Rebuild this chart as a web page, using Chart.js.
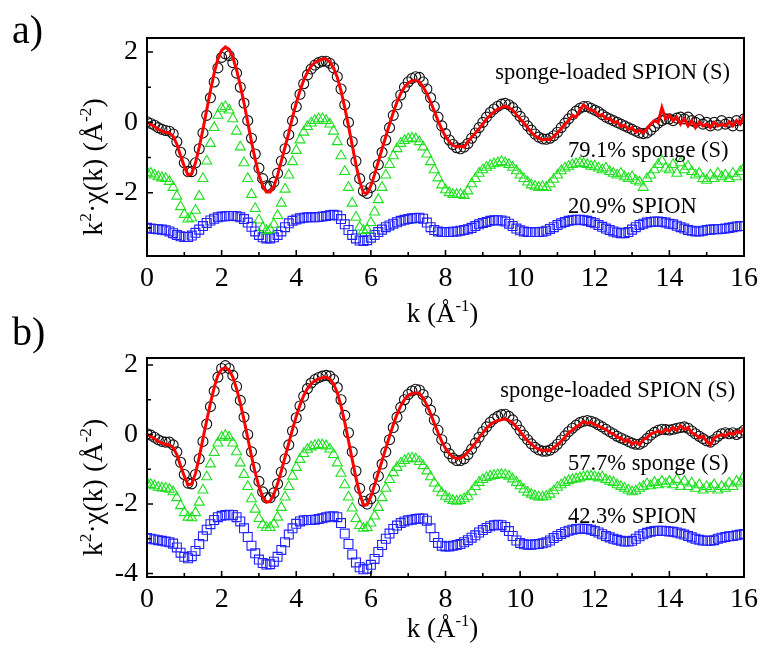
<!DOCTYPE html>
<html><head><meta charset="utf-8">
<script src="https://cdn.jsdelivr.net/npm/chart.js@4.4.1/dist/chart.umd.min.js"></script>
<style>
html,body{margin:0;padding:0;background:#fff;}
body{width:764px;height:650px;position:relative;overflow:hidden;}
.box{position:absolute;left:0;width:764px;}
#wa{top:0;height:335px;}
#wb{top:300px;height:350px;}
</style></head><body>
<div class="box" id="wa"><canvas id="ca"></canvas></div>
<div class="box" id="wb"><canvas id="cb"></canvas></div>
<script>
// ---------- DATA ----------
const kGrid = [
0,0.1,0.2,0.3,0.4,0.5,0.6,0.7,0.8,0.9,
1,1.1,1.2,1.3,1.4,1.5,1.6,1.7,1.8,1.9,
2,2.1,2.2,2.3,2.4,2.5,2.6,2.7,2.8,2.9,
3,3.1,3.2,3.3,3.4,3.5,3.6,3.7,3.8,3.9,
4,4.1,4.2,4.3,4.4,4.5,4.6,4.7,4.8,4.9,
5,5.1,5.2,5.3,5.4,5.5,5.6,5.7,5.8,5.9,
6,6.1,6.2,6.3,6.4,6.5,6.6,6.7,6.8,6.9,
7,7.1,7.2,7.3,7.4,7.5,7.6,7.7,7.8,7.9,
8,8.1,8.2,8.3,8.4,8.5,8.6,8.7,8.8,8.9,
9,9.1,9.2,9.3,9.4,9.5,9.6,9.7,9.8,9.9,
10,10.1,10.2,10.3,10.4,10.5,10.6,10.7,10.8,10.9,
11,11.1,11.2,11.3,11.4,11.5,11.6,11.7,11.8,11.9,
12,12.1,12.2,12.3,12.4,12.5,12.6,12.7,12.8,12.9,
13,13.1,13.2,13.3,13.4,13.5,13.6,13.7,13.8,13.9,
14,14.1,14.2,14.3,14.4,14.5,14.6,14.7,14.8,14.9,
15,15.1,15.2,15.3,15.4,15.5,15.6,15.7,15.8,15.9,
16];

// panel a) sponge-loaded SPION (S): measured
const aSample = [
0.02,-0.03,-0.08,-0.15,-0.2,-0.23,-0.25,-0.33,-0.55,-0.85,
-1.15,-1.4,-1.4,-1.15,-0.75,-0.3,0.2,0.7,1.15,1.55,
1.85,1.95,1.9,1.7,1.4,1.0,0.55,0.05,-0.45,-0.9,
-1.3,-1.6,-1.8,-1.82,-1.7,-1.45,-1.1,-0.75,-0.35,0.05,
0.45,0.8,1.1,1.35,1.52,1.63,1.7,1.74,1.74,1.68,
1.55,1.3,0.95,0.5,0.0,-0.55,-1.1,-1.6,-1.95,-2.02,
-1.85,-1.55,-1.2,-0.85,-0.5,-0.15,0.2,0.5,0.78,1.0,
1.15,1.25,1.3,1.28,1.15,0.95,0.7,0.45,0.15,-0.1,
-0.32,-0.5,-0.63,-0.72,-0.75,-0.7,-0.6,-0.45,-0.3,-0.15,
0.0,0.15,0.28,0.38,0.46,0.52,0.54,0.5,0.42,0.3,
0.17,0.04,-0.1,-0.22,-0.33,-0.42,-0.47,-0.48,-0.45,-0.38,
-0.28,-0.15,-0.02,0.1,0.22,0.32,0.4,0.45,0.45,0.4,
0.35,0.3,0.22,0.15,0.1,0.05,0.0,-0.05,-0.1,-0.15,
-0.2,-0.25,-0.3,-0.32,-0.3,-0.22,-0.12,-0.02,0.05,0.1,
0.1,0.05,0.12,0.15,0.1,0.15,0.05,0.0,0.08,-0.05,
0.0,-0.1,0.0,-0.08,0.05,-0.05,0.0,-0.1,0.05,-0.1,
0.1];
// panel a) fit
const aFit = [
0.0,-0.05,-0.12,-0.2,-0.25,-0.28,-0.3,-0.4,-0.62,-0.95,
-1.25,-1.5,-1.45,-1.15,-0.7,-0.2,0.35,0.9,1.4,1.8,
2.05,2.15,2.08,1.85,1.5,1.05,0.55,0.0,-0.55,-1.05,
-1.5,-1.8,-1.98,-1.98,-1.82,-1.5,-1.1,-0.7,-0.3,0.15,
0.55,0.9,1.2,1.43,1.6,1.7,1.76,1.8,1.8,1.72,
1.55,1.28,0.9,0.42,-0.1,-0.65,-1.2,-1.68,-2.0,-2.02,
-1.8,-1.48,-1.12,-0.75,-0.4,-0.05,0.28,0.58,0.82,1.0,
1.12,1.18,1.2,1.15,1.02,0.82,0.58,0.32,0.05,-0.2,
-0.4,-0.55,-0.65,-0.7,-0.68,-0.7,-0.55,-0.42,-0.3,-0.18,
-0.05,0.1,0.2,0.3,0.38,0.42,0.47,0.42,0.35,0.22,
0.1,-0.02,-0.15,-0.28,-0.38,-0.45,-0.5,-0.48,-0.5,-0.4,
-0.3,-0.18,-0.05,0.05,0.2,0.15,0.35,0.5,0.4,0.35,
0.32,0.2,0.22,0.1,0.12,0.0,0.02,-0.12,-0.08,-0.2,
-0.15,-0.28,-0.22,-0.3,-0.18,-0.05,0.05,0.0,0.42,0.1,
0.2,0.05,0.15,-0.05,0.1,-0.1,0.05,-0.15,0.0,-0.1,
-0.05,-0.15,0.0,-0.1,-0.05,-0.1,0.02,-0.1,0.05,-0.05,
0.2];
// panel a) 79.1% sponge (S)
const aSponge = [
-1.42,-1.45,-1.5,-1.55,-1.58,-1.6,-1.68,-1.85,-2.1,-2.4,
-2.62,-2.75,-2.72,-2.5,-2.1,-1.6,-1.1,-0.6,-0.15,0.2,
0.4,0.45,0.35,0.1,-0.25,-0.7,-1.15,-1.6,-2.05,-2.45,
-2.78,-3.0,-3.08,-3.05,-2.9,-2.65,-2.3,-1.9,-1.5,-1.12,
-0.8,-0.5,-0.28,-0.12,-0.02,0.05,0.1,0.1,0.05,-0.05,
-0.25,-0.55,-0.95,-1.4,-1.85,-2.3,-2.7,-2.98,-3.08,-3.05,
-2.85,-2.55,-2.2,-1.85,-1.5,-1.2,-0.95,-0.75,-0.6,-0.52,
-0.47,-0.45,-0.47,-0.55,-0.7,-0.9,-1.12,-1.35,-1.58,-1.78,
-1.92,-2.0,-2.05,-2.05,-2.05,-2.08,-1.95,-1.75,-1.6,-1.45,
-1.35,-1.28,-1.22,-1.18,-1.15,-1.12,-1.15,-1.2,-1.28,-1.38,
-1.5,-1.6,-1.7,-1.78,-1.82,-1.85,-1.83,-1.85,-1.75,-1.62,
-1.5,-1.38,-1.3,-1.25,-1.2,-1.18,-1.15,-1.17,-1.2,-1.25,
-1.25,-1.3,-1.35,-1.3,-1.4,-1.45,-1.5,-1.45,-1.55,-1.6,
-1.55,-1.65,-1.7,-1.85,-1.6,-1.5,-1.35,-1.2,-1.1,-1.3,
-1.35,-1.2,-1.45,-1.15,-1.35,-1.25,-1.4,-1.5,-1.45,-1.6,
-1.65,-1.5,-1.6,-1.45,-1.55,-1.5,-1.6,-1.45,-1.55,-1.4,
-1.3];
// panel a) 20.9% SPION
const aSpion = [
-3.0,-3.02,-3.03,-3.04,-3.05,-3.07,-3.1,-3.15,-3.2,-3.24,
-3.26,-3.26,-3.22,-3.14,-3.05,-2.95,-2.86,-2.79,-2.74,-2.7,
-2.68,-2.67,-2.66,-2.66,-2.67,-2.7,-2.75,-2.85,-2.97,-3.1,
-3.2,-3.27,-3.3,-3.3,-3.27,-3.2,-3.1,-2.98,-2.87,-2.8,
-2.76,-2.73,-2.71,-2.7,-2.7,-2.7,-2.69,-2.68,-2.66,-2.64,
-2.63,-2.65,-2.75,-2.9,-3.06,-3.2,-3.3,-3.36,-3.37,-3.35,
-3.28,-3.2,-3.12,-3.05,-2.98,-2.93,-2.88,-2.84,-2.8,-2.77,
-2.75,-2.73,-2.72,-2.71,-2.74,-2.85,-2.98,-3.06,-3.1,-3.12,
-3.12,-3.12,-3.11,-3.1,-3.08,-3.06,-3.04,-3.0,-2.95,-2.9,
-2.86,-2.83,-2.8,-2.78,-2.78,-2.79,-2.82,-2.88,-2.95,-3.02,
-3.07,-3.1,-3.12,-3.12,-3.12,-3.12,-3.11,-3.08,-3.03,-2.98,
-2.92,-2.87,-2.83,-2.8,-2.78,-2.77,-2.77,-2.78,-2.8,-2.83,
-2.87,-2.92,-2.97,-3.02,-3.06,-3.1,-3.13,-3.15,-3.15,-3.12,
-3.05,-2.98,-2.92,-2.88,-2.85,-2.83,-2.82,-2.82,-2.83,-2.85,
-2.88,-2.9,-2.94,-2.98,-3.02,-3.06,-3.08,-3.1,-3.1,-3.08,
-3.06,-3.05,-3.04,-3.04,-3.03,-3.02,-3.0,-2.98,-2.96,-2.95,
-2.95];

// panel b) sponge-loaded SPION (S): measured
const bSample = [
0.02,-0.02,-0.08,-0.15,-0.2,-0.22,-0.22,-0.3,-0.5,-0.8,
-1.15,-1.4,-1.42,-1.15,-0.7,-0.2,0.3,0.8,1.25,1.65,
1.9,1.98,1.9,1.7,1.38,0.98,0.5,0.0,-0.5,-0.95,
-1.35,-1.65,-1.82,-1.82,-1.68,-1.42,-1.08,-0.7,-0.3,0.1,
0.48,0.82,1.1,1.32,1.48,1.58,1.64,1.68,1.7,1.68,
1.58,1.35,1.0,0.55,0.05,-0.5,-1.05,-1.55,-1.92,-2.0,
-1.85,-1.55,-1.2,-0.85,-0.5,-0.15,0.2,0.5,0.78,1.0,
1.15,1.25,1.3,1.28,1.15,0.95,0.7,0.42,0.12,-0.15,
-0.38,-0.55,-0.68,-0.75,-0.75,-0.7,-0.58,-0.42,-0.25,-0.08,
0.08,0.22,0.35,0.45,0.52,0.57,0.58,0.52,0.42,0.28,
0.12,-0.02,-0.15,-0.27,-0.37,-0.44,-0.48,-0.48,-0.45,-0.38,
-0.28,-0.16,-0.04,0.08,0.18,0.27,0.34,0.38,0.4,0.38,
0.34,0.28,0.22,0.15,0.08,0.02,-0.05,-0.1,-0.15,-0.2,
-0.25,-0.28,-0.28,-0.22,-0.12,-0.02,0.06,0.12,0.15,0.14,
0.13,0.15,0.18,0.2,0.22,0.18,0.1,0.02,-0.05,-0.12,
-0.18,-0.22,-0.15,-0.05,0.02,0.05,0.02,0.05,0.0,0.05,
0.12];
// panel b) fit
const bFit = [
0.0,-0.05,-0.12,-0.2,-0.25,-0.28,-0.3,-0.38,-0.58,-0.9,
-1.2,-1.45,-1.42,-1.12,-0.65,-0.12,0.4,0.9,1.35,1.7,
1.88,1.92,1.85,1.65,1.32,0.9,0.42,-0.1,-0.62,-1.1,
-1.5,-1.8,-1.95,-1.92,-1.72,-1.42,-1.05,-0.65,-0.25,0.15,
0.52,0.85,1.12,1.32,1.46,1.55,1.6,1.63,1.65,1.6,
1.45,1.2,0.82,0.35,-0.18,-0.72,-1.25,-1.7,-2.02,-2.02,
-1.78,-1.45,-1.1,-0.75,-0.4,-0.05,0.28,0.58,0.82,1.0,
1.12,1.18,1.2,1.18,1.05,0.85,0.6,0.32,0.05,-0.2,
-0.4,-0.55,-0.65,-0.7,-0.68,-0.62,-0.5,-0.38,-0.25,-0.1,
0.05,0.18,0.28,0.36,0.4,0.42,0.45,0.4,0.33,0.22,
0.08,-0.05,-0.18,-0.28,-0.37,-0.43,-0.47,-0.45,-0.47,-0.38,
-0.3,-0.2,-0.08,0.05,0.12,0.22,0.28,0.38,0.32,0.35,
0.28,0.25,0.18,0.15,0.05,0.02,-0.08,-0.1,-0.2,-0.15,
-0.28,-0.22,-0.3,-0.15,-0.1,0.02,0.05,0.1,0.05,0.15,
0.1,0.2,0.12,0.25,0.15,0.2,0.05,0.0,-0.1,-0.05,
-0.2,-0.3,-0.1,-0.05,0.0,-0.05,0.05,0.0,0.08,0.05,
0.18];
// panel b) 57.7% sponge (S)
const bSponge = [
-1.4,-1.44,-1.48,-1.52,-1.54,-1.55,-1.58,-1.65,-1.82,-2.05,
-2.25,-2.38,-2.4,-2.25,-1.95,-1.6,-1.22,-0.85,-0.52,-0.25,
-0.08,-0.03,-0.08,-0.25,-0.5,-0.82,-1.15,-1.5,-1.85,-2.15,
-2.42,-2.6,-2.68,-2.68,-2.58,-2.38,-2.1,-1.8,-1.5,-1.2,
-0.95,-0.72,-0.55,-0.43,-0.36,-0.32,-0.3,-0.3,-0.33,-0.42,
-0.58,-0.82,-1.12,-1.45,-1.8,-2.12,-2.42,-2.62,-2.7,-2.68,
-2.55,-2.35,-2.1,-1.82,-1.55,-1.3,-1.1,-0.95,-0.83,-0.75,
-0.7,-0.68,-0.7,-0.78,-0.9,-1.05,-1.22,-1.4,-1.55,-1.68,
-1.78,-1.85,-1.9,-1.92,-1.9,-1.85,-1.78,-1.65,-1.5,-1.38,
-1.3,-1.24,-1.2,-1.18,-1.16,-1.15,-1.16,-1.2,-1.28,-1.38,
-1.48,-1.58,-1.66,-1.72,-1.77,-1.8,-1.8,-1.78,-1.72,-1.62,
-1.52,-1.45,-1.38,-1.33,-1.3,-1.28,-1.25,-1.22,-1.2,-1.2,
-1.22,-1.25,-1.22,-1.3,-1.35,-1.38,-1.45,-1.5,-1.55,-1.6,
-1.65,-1.62,-1.55,-1.5,-1.42,-1.48,-1.38,-1.45,-1.35,-1.42,
-1.35,-1.45,-1.3,-1.5,-1.35,-1.5,-1.4,-1.55,-1.45,-1.6,
-1.5,-1.55,-1.45,-1.6,-1.5,-1.55,-1.4,-1.5,-1.35,-1.4,
-1.2];
// panel b) 42.3% SPION
const bSpion = [
-2.98,-3.0,-3.02,-3.04,-3.06,-3.08,-3.1,-3.14,-3.25,-3.4,
-3.52,-3.56,-3.5,-3.35,-3.15,-2.93,-2.74,-2.58,-2.46,-2.38,
-2.34,-2.32,-2.31,-2.32,-2.38,-2.5,-2.7,-2.95,-3.2,-3.42,
-3.6,-3.7,-3.74,-3.73,-3.66,-3.52,-3.32,-3.1,-2.88,-2.7,
-2.57,-2.5,-2.47,-2.46,-2.46,-2.45,-2.43,-2.41,-2.38,-2.36,
-2.35,-2.38,-2.55,-2.85,-3.15,-3.45,-3.68,-3.82,-3.88,-3.86,
-3.75,-3.58,-3.38,-3.18,-3.0,-2.85,-2.72,-2.62,-2.55,-2.5,
-2.47,-2.45,-2.43,-2.42,-2.42,-2.48,-2.7,-2.95,-3.12,-3.2,
-3.22,-3.22,-3.2,-3.18,-3.15,-3.1,-3.04,-2.97,-2.9,-2.82,
-2.75,-2.69,-2.64,-2.61,-2.6,-2.61,-2.66,-2.78,-2.92,-3.05,
-3.12,-3.16,-3.17,-3.17,-3.16,-3.15,-3.13,-3.1,-3.05,-2.98,
-2.92,-2.86,-2.81,-2.77,-2.74,-2.72,-2.71,-2.71,-2.72,-2.74,
-2.78,-2.82,-2.87,-2.92,-2.96,-3.0,-3.03,-3.06,-3.08,-3.08,
-3.06,-3.0,-2.93,-2.87,-2.83,-2.8,-2.78,-2.77,-2.77,-2.78,
-2.79,-2.8,-2.82,-2.85,-2.88,-2.92,-2.96,-3.0,-3.03,-3.05,
-3.06,-3.06,-3.04,-3.0,-2.97,-2.95,-2.93,-2.92,-2.9,-2.88,
-2.86];

const xMajorTicks = [0,2,4,6,8,10,12,14,16];
const xMinorTicks = [1,3,5,7,9,11,13,15];
const aYTicks = [-2,0,2];
const aYMinor = [-3,-1,1];
const bYTicks = [-4,-2,0,2];
const bYMinor = [-3,-1,1];
const aLabels = ['sponge-loaded SPION (S)','79.1% sponge (S)','20.9% SPION'];
const bLabels = ['sponge-loaded SPION (S)','57.7% sponge (S)','42.3% SPION'];

// ---------- DRAWING ----------
const FONT = "'Liberation Serif','Times New Roman',serif";
Chart.defaults.font.family = FONT;
Chart.defaults.color = '#000';

function pts(arr){ return kGrid.map((k,i)=>({x:k,y:arr[i]})); }

function drawRich(ctx, segs, size, x, y, rot){
  const parts = segs.map(s=>{
    const fs = s.sup ? size*0.62 : size;
    ctx.font = fs+'px '+FONT;
    return {t:s.t, fs, w:ctx.measureText(s.t).width, dy:s.sup ? -size*0.4 : 0};
  });
  const total = parts.reduce((a,p)=>a+p.w,0);
  ctx.save();
  ctx.translate(x,y);
  if (rot) ctx.rotate(rot);
  ctx.fillStyle='#000'; ctx.textAlign='left'; ctx.textBaseline='alphabetic';
  let cx = -total/2;
  for (const p of parts){ ctx.font = p.fs+'px '+FONT; ctx.fillText(p.t,cx,p.dy); cx+=p.w; }
  ctx.restore();
}

const framePlugin = {
  id:'frame',
  afterDatasetsDraw(chart, args, o){
    const {ctx, chartArea:a, scales:{x,y}} = chart;
    ctx.save();
    ctx.strokeStyle='#000';
    ctx.lineWidth=2;
    ctx.strokeRect(a.left, a.top, a.right-a.left, a.bottom-a.top);
    ctx.lineWidth=1.6;
    ctx.beginPath();
    xMajorTicks.forEach(v=>{const p=x.getPixelForValue(v); ctx.moveTo(p,a.bottom); ctx.lineTo(p,a.bottom-6);});
    xMinorTicks.forEach(v=>{const p=x.getPixelForValue(v); ctx.moveTo(p,a.bottom); ctx.lineTo(p,a.bottom-4);});
    o.yMajor.forEach(v=>{const p=y.getPixelForValue(v); ctx.moveTo(a.left,p); ctx.lineTo(a.left+6,p);});
    o.yMinor.forEach(v=>{const p=y.getPixelForValue(v); ctx.moveTo(a.left,p); ctx.lineTo(a.left+4,p);});
    ctx.stroke();
    // series labels
    ctx.fillStyle='#000'; ctx.textAlign='left'; ctx.textBaseline='alphabetic';
    ctx.font='22.5px '+FONT;
    o.labels.forEach((t,i)=>{
      const pos=o.labelPos[i];
      ctx.fillText(t, x.getPixelForValue(pos[0]), y.getPixelForValue(pos[1]));
    });
    // panel letter
    ctx.font='40px '+FONT;
    ctx.fillText(o.panel, o.panelPos[0], o.panelPos[1]);
    // axis titles
    drawRich(ctx,[{t:'k (Å'},{t:'-1',sup:true},{t:')'}],27,(a.left+a.right)/2-3,o.xTitleY,0);
    drawRich(ctx,[{t:'k'},{t:'2',sup:true},{t:'·χ(k) (Å'},{t:'-2',sup:true},{t:')'}],28,o.yTitleX,(a.top+a.bottom)/2+20,-Math.PI/2);
    ctx.restore();
  }
};

function makeChart(id, series, yMin, yMax, yTicks, yMinor, padTop, xHeight, frameOpts){
  const [fit, sample, sponge, spion] = series;
  return new Chart(document.getElementById(id), {
    type:'scatter',
    data:{datasets:[
      {label:'fit', data:pts(fit), showLine:true, borderColor:'#ff0000', borderWidth:3, pointRadius:0, order:0, tension:0},
      {label:'sample', data:pts(sample), showLine:false, pointStyle:'circle', pointRadius:5, pointBorderWidth:1.1, pointBorderColor:'#111', pointBackgroundColor:'rgba(0,0,0,0)', order:1},
      {label:'sponge', data:pts(sponge), showLine:false, pointStyle:'triangle', pointRadius:5.8, pointBorderWidth:1.1, pointBorderColor:'#1fe01f', pointBackgroundColor:'rgba(0,0,0,0)', order:2},
      {label:'spion', data:pts(spion), showLine:false, pointStyle:'rect', pointRadius:6.3, pointBorderWidth:1.1, pointBorderColor:'#2020ff', pointBackgroundColor:'rgba(0,0,0,0)', order:3}
    ]},
    options:{
      responsive:true, maintainAspectRatio:false, animation:false, devicePixelRatio:1,
      layout:{padding:{top:padTop, right:17, left:0, bottom:0}},
      plugins:{legend:{display:false}, tooltip:{enabled:false}, frame:frameOpts},
      scales:{
        x:{type:'linear', min:0, max:16,
           afterBuildTicks:ax=>{ax.ticks=xMajorTicks.map(v=>({value:v}));},
           afterFit:s=>{s.height=xHeight;},
           grid:{display:false, drawTicks:false}, border:{display:false},
           ticks:{font:{size:28}, color:'#000', padding:6, maxRotation:0, autoSkip:false}},
        y:{type:'linear', min:yMin, max:yMax,
           afterBuildTicks:ax=>{ax.ticks=yTicks.map(v=>({value:v}));},
           afterFit:s=>{s.width=147;},
           grid:{display:false, drawTicks:false}, border:{display:false},
           ticks:{font:{size:28}, color:'#000', padding:9, autoSkip:false}}
      }
    },
    plugins:[framePlugin]
  });
}

makeChart('ca',[aFit,aSample,aSponge,aSpion],-3.8,2.4,aYTicks,aYMinor,38,79,{
  yMajor:aYTicks, yMinor:aYMinor, labels:aLabels,
  labelPos:[[9.33,1.23],[11.28,-0.98],[11.28,-2.58]],
  panel:'a)', panelPos:[12,43], xTitleY:322, yTitleX:102
});
makeChart('cb',[bFit,bSample,bSponge,bSpion],-4.1,2.2,bYTicks,bYMinor,58,73,{
  yMajor:bYTicks, yMinor:bYMinor, labels:bLabels,
  labelPos:[[9.47,1.08],[11.28,-1.02],[11.28,-2.55]],
  panel:'b)', panelPos:[12,45], xTitleY:337, yTitleX:102
});
</script>
</body></html>
